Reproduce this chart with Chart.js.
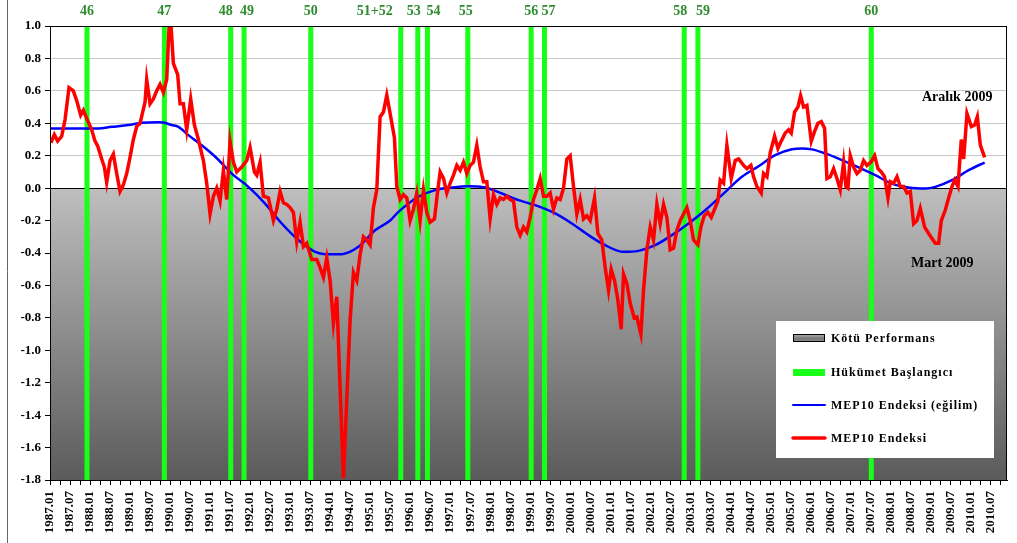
<!DOCTYPE html>
<html>
<head>
<meta charset="utf-8">
<script src="https://cdn.jsdelivr.net/npm/chart.js@4.4.1/dist/chart.umd.min.js"></script>
<style>
  body { margin: 0; background: #fff; }
</style>
</head>
<body>
<canvas id="chart" width="1017" height="543"></canvas>
<script>
// month index: 0 = 1987.01
const mepMonths = [
  0.3, 1.3, 2.3, 3.5, 4.5, 5.7, 7, 8, 9.2, 10, 11, 12.5, 13.5, 14.3, 15.5, 16.3, 17, 18, 19, 20,
  21, 22, 23, 24, 25, 26, 27, 28.5, 29, 30, 31, 32, 33, 34, 35, 35.7, 36.3, 37, 38.3, 39,
  40, 41, 42.2, 43.3, 44.5, 46, 47, 48, 49, 50, 51, 52, 53, 54, 55, 56, 57.5, 59, 60, 61.3,
  62, 63, 64, 65.5, 67, 68, 69, 70, 71, 72, 73, 74, 75, 76, 77, 78.5, 80, 81, 82, 83,
  84, 85, 86, 88, 90, 91, 92, 93, 94, 95, 96, 97, 98, 99, 100, 101, 102, 103.3, 104, 105,
  106, 107, 108, 109, 110, 111, 112, 113, 114, 115.3, 116.3, 117, 118, 119, 120, 121, 122, 123, 124, 125,
  126, 127, 128, 129, 130, 131, 132, 133, 134, 135, 136, 137, 138, 139, 140, 141, 142, 143, 144, 145,
  146, 147, 148, 149, 150, 151, 152, 153, 154, 155, 156, 157, 158, 159, 160, 161, 162, 163.3, 164.3, 165.5,
  166.5, 167.5, 168.3, 169.3, 170.3, 171.3, 172, 173, 174, 175.2, 176, 177.2, 178, 179, 180, 181, 182, 183, 184, 185,
  186, 187, 188, 189, 190, 191, 192, 193, 194.3, 195.2, 196.2, 197.3, 198.3, 199.3, 200.3, 201, 202, 203, 204.3, 205.5,
  206.5, 208, 209, 210.2, 211, 212, 213.3, 214, 215, 216, 217.3, 218.3, 219.3, 220.5, 221.5, 222.3, 223.3, 224.3, 225.1, 226,
  227, 228.3, 229.3, 230.3, 231.3, 232.3, 233, 234, 235, 236, 237, 238, 238.7, 239.3, 240, 241, 242, 243, 244, 245,
  246.2, 247.3, 248.3, 249.3, 250.3, 251.3, 252, 253, 254, 255, 256, 257, 258, 259, 260, 261, 262.3, 263.5, 264.5, 265.5,
  266.5, 267.3, 268.5, 269.5, 270.5, 271.3, 272.3, 273.3, 274, 275, 276.3, 277.3, 278.1, 279, 280.3
];
const mepValues = [
  0.28, 0.33, 0.29, 0.32, 0.42, 0.62, 0.6, 0.54, 0.45, 0.48, 0.43, 0.36, 0.29, 0.26, 0.18, 0.13, 0.035, 0.17, 0.21, 0.09,
  -0.02, 0.02, 0.09, 0.19, 0.3, 0.38, 0.4, 0.53, 0.67, 0.52, 0.55, 0.6, 0.64, 0.59, 0.67, 0.99, 1.0, 0.77, 0.7, 0.52,
  0.52, 0.36, 0.55, 0.39, 0.3, 0.17, 0.03, -0.16, -0.05, 0.0, -0.08, 0.11, -0.07, 0.29, 0.16, 0.1, 0.13, 0.17, 0.25, 0.1,
  0.08, 0.16, -0.05, -0.06, -0.2, -0.13, -0.02, -0.09, -0.1, -0.12, -0.15, -0.33, -0.21, -0.36, -0.34, -0.44, -0.44, -0.49, -0.55, -0.43,
  -0.57, -0.835, -0.67, -1.79, -0.815, -0.52, -0.57, -0.41, -0.3, -0.32, -0.35, -0.12, -0.01, 0.44, 0.47, 0.574, 0.46, 0.31, 0.01, -0.07,
  -0.04, -0.06, -0.2, -0.13, -0.03, -0.2, -0.01, -0.15, -0.21, -0.19, -0.01, 0.1, 0.06, -0.03, 0.03, 0.08, 0.14, 0.11, 0.16, 0.09,
  0.14, 0.16, 0.265, 0.13, 0.04, 0.04, -0.19, -0.04, -0.1, -0.06, -0.07, -0.05, -0.07, -0.08, -0.24, -0.29, -0.24, -0.27, -0.18, -0.07,
  -0.01, 0.06, -0.05, -0.05, -0.03, -0.13, -0.06, -0.07, 0.0, 0.18, 0.2, 0.01, -0.16, -0.07, -0.19, -0.17, -0.2, -0.06, -0.28, -0.32,
  -0.49, -0.63, -0.5, -0.57, -0.69, -0.87, -0.53, -0.59, -0.71, -0.8, -0.795, -0.9, -0.63, -0.38, -0.24, -0.32, -0.1, -0.22, -0.1, -0.18,
  -0.38, -0.37, -0.26, -0.2, -0.16, -0.12, -0.2, -0.32, -0.35, -0.24, -0.17, -0.15, -0.18, -0.13, -0.08, 0.05, 0.03, 0.265, 0.06, 0.17,
  0.18, 0.14, 0.12, 0.14, 0.07, 0.01, -0.03, 0.09, 0.07, 0.22, 0.32, 0.245, 0.29, 0.34, 0.36, 0.34, 0.47, 0.5, 0.57, 0.5,
  0.51, 0.29, 0.35, 0.4, 0.41, 0.37, 0.06, 0.07, 0.12, 0.06, -0.01, 0.16, 0.01, 0.0, 0.2, 0.13, 0.09, 0.11, 0.17, 0.14,
  0.16, 0.2, 0.12, 0.1, 0.07, -0.06, 0.04, 0.03, 0.07, 0.01, 0.01, -0.03, -0.02, -0.22, -0.2, -0.125, -0.24, -0.28, -0.31, -0.34,
  -0.34, -0.2, -0.135, -0.06, 0.01, 0.05, 0.01, 0.3, 0.18, 0.46, 0.38, 0.39, 0.44, 0.265, 0.19
];

const trendMonths = [
  0, 14.5, 18.5, 23.5, 27.5, 32.5, 34, 36.5, 38.5, 41.5, 45.5, 49.5, 54.5, 59.5, 64.5,
  69.5, 74.5, 79.5, 82.5, 87.5, 92.5, 97.5, 102, 104.5, 110.5, 115.5, 120.5, 125.5, 130.5, 135.5,
  140.5, 145.5, 151.5, 156.5, 161.5, 166.5, 172, 176.5, 181.5, 186.5, 191.5, 196.5, 201.5, 207.5, 212.5,
  217.5, 222.5, 225.5, 228.5, 232.5, 237.5, 242.5, 247.5, 252.5, 257.5, 262.5, 265.5, 270.5, 275.5, 280.3
];
const trendValues = [
  0.368, 0.368, 0.378, 0.389, 0.403, 0.407, 0.405, 0.389, 0.378, 0.327, 0.265, 0.195, 0.09, 0.008, -0.095,
  -0.218, -0.32, -0.393, -0.407, -0.407, -0.362, -0.26, -0.2, -0.146, -0.053, -0.012, 0.004, 0.012, 0.004, -0.033,
  -0.074, -0.105, -0.156, -0.218, -0.29, -0.352, -0.393, -0.387, -0.352, -0.29, -0.218, -0.136, -0.043, 0.07, 0.135,
  0.204, 0.24, 0.245, 0.239, 0.214, 0.173, 0.128, 0.08, 0.028, 0.004, -0.002, 0.008, 0.049, 0.111, 0.158
];

// government start months and their numbers
const govMonths = [11.1, 34.3, 54.2, 58.2, 78.2, 105.2, 110.3, 113.2, 125.3, 144.3, 148.3, 190.2, 194.3, 246.3];
const govNames = ['46', '47', '48', '49', '50', '51+52', '53', '54', '55', '56', '57', '58', '59', '60'];

const serif = "'Liberation Serif', 'Times New Roman', serif";

function monthLabel(v) {
  const y = 1987 + Math.floor(v / 12);
  const m = (v % 12) + 1;
  return y + '.' + (m < 10 ? '0' + m : m);
}

const backdrop = {
  id: 'backdrop',
  beforeDatasetsDraw(chart) {
    const { ctx, chartArea: a, scales: { x, y } } = chart;
    const y0 = y.getPixelForValue(0);
    ctx.save();
    // "Kötü Performans" zone
    const g = ctx.createLinearGradient(0, y0, 0, a.bottom);
    g.addColorStop(0, '#bebebe');
    g.addColorStop(1, '#5b5b5b');
    ctx.fillStyle = g;
    ctx.fillRect(a.left, y0, a.right - a.left, a.bottom - y0);
    ctx.strokeStyle = '#000';
    ctx.lineWidth = 1;
    ctx.beginPath();
    ctx.moveTo(a.left, Math.round(y0) + 0.5);
    ctx.lineTo(a.right, Math.round(y0) + 0.5);
    ctx.stroke();

    // government start bars
    ctx.fillStyle = '#19ff19';
    govMonths.forEach(m => {
      const px = x.getPixelForValue(m);
      ctx.fillRect(px - 2.5, a.top, 5, a.bottom - a.top);
    });

    // their labels
    const shift = [0, 0, -5, 3, 0, -26, -4, 6, -2, 0, 4, -4, 5, 0];
    ctx.fillStyle = '#2e8b2e';
    ctx.font = 'bold 14px ' + serif;
    ctx.textAlign = 'center';
    ctx.textBaseline = 'middle';
    govMonths.forEach((m, i) => {
      ctx.fillText(govNames[i], x.getPixelForValue(m) + shift[i], 11);
    });
    ctx.restore();
  },
  afterDatasetsDraw(chart) {
    const { ctx, chartArea: a } = chart;
    ctx.save();
    // plot frame
    ctx.strokeStyle = '#000';
    ctx.lineWidth = 1;
    ctx.strokeRect(a.left + 0.5, a.top + 0.5, a.right - a.left - 1, a.bottom - a.top);

    // outer chart border
    ctx.strokeStyle = '#666';
    ctx.beginPath();
    ctx.moveTo(7.5, 0);
    ctx.lineTo(7.5, 543);
    ctx.stroke();

    // notes
    ctx.fillStyle = '#000';
    ctx.font = 'bold 14px ' + serif;
    ctx.textAlign = 'left';
    ctx.textBaseline = 'middle';
    ctx.fillText('Aralık 2009', 922, 97);
    ctx.fillText('Mart 2009', 911, 263);

    // legend
    ctx.fillStyle = '#fff';
    ctx.fillRect(776, 321, 218, 137);
    const sx = 793, sw = 32, tx = 831;
    const rows = [338, 372, 405, 438];

    const lg = ctx.createLinearGradient(0, 334, 0, 343);
    lg.addColorStop(0, '#b0b0b0');
    lg.addColorStop(0.5, '#777');
    lg.addColorStop(1, '#999');
    ctx.fillStyle = lg;
    ctx.fillRect(sx, rows[0] - 4, sw, 8);
    ctx.strokeStyle = '#000';
    ctx.strokeRect(sx + 0.5, rows[0] - 3.5, sw - 1, 7);

    ctx.fillStyle = '#19ff19';
    ctx.fillRect(sx, rows[1] - 3, sw, 7);

    ctx.lineCap = 'round';
    ctx.strokeStyle = '#0000ff';
    ctx.lineWidth = 2;
    ctx.beginPath();
    ctx.moveTo(sx, rows[2]);
    ctx.lineTo(sx + sw, rows[2]);
    ctx.stroke();

    ctx.strokeStyle = '#ff0000';
    ctx.lineWidth = 3.5;
    ctx.beginPath();
    ctx.moveTo(sx, rows[3]);
    ctx.lineTo(sx + sw, rows[3]);
    ctx.stroke();

    const names = ['Kötü Performans', 'Hükümet Başlangıcı',
      chart.data.datasets[1].label, chart.data.datasets[0].label];
    ctx.fillStyle = '#000';
    ctx.font = 'bold 12px ' + serif;
    ctx.letterSpacing = '1px';
    names.forEach((n, i) => ctx.fillText(n, tx, rows[i] + 1));
    ctx.restore();
  }
};

const tickFont = { family: serif, weight: 'bold', size: 13 };

new Chart(document.getElementById('chart'), {
  type: 'line',
  data: {
    datasets: [{
      label: 'MEP10 Endeksi',
      data: mepMonths.map((m, i) => ({ x: m, y: mepValues[i] })),
      borderColor: '#ff0000',
      borderWidth: 3.5,
      pointRadius: 0,
      tension: 0
    },
    {
      label: 'MEP10 Endeksi (eğilim)',
      data: trendMonths.map((m, i) => ({ x: m, y: trendValues[i] })),
      borderColor: '#0000ff',
      borderWidth: 2.5,
      pointRadius: 0,
      cubicInterpolationMode: 'monotone'
    }]
  },
  options: {
    responsive: false,
    animation: false,
    devicePixelRatio: 1,
    layout: { padding: { left: 0, top: 26, right: 10, bottom: 0 } },
    plugins: { legend: { display: false }, tooltip: { enabled: false } },
    scales: {
      x: {
        type: 'linear',
        min: 0,
        max: 287,
        afterBuildTicks: s => {
          const t = [];
          for (let v = 0; v <= 287; v += 3) t.push({ value: v });
          s.ticks = t;
        },
        afterFit: s => {
          s.height = 63;
          s.paddingLeft = 0;
          s.paddingRight = 0;
        },
        ticks: {
          autoSkip: false,
          minRotation: 90,
          maxRotation: 90,
          padding: 6,
          color: '#000',
          font: { family: serif, weight: 'bold', size: 13 },
          callback: v => (v % 6 === 0 ? monthLabel(v) : '')
        },
        grid: { drawOnChartArea: false, tickLength: 5, tickColor: '#000' },
        border: { color: '#000' }
      },
      y: {
        min: -1.8,
        max: 1.0,
        afterFit: s => {
          s.width = 50;
          s.paddingTop = 0;
          s.paddingBottom = 0;
        },
        ticks: {
          stepSize: 0.2,
          padding: 4,
          color: '#000',
          font: tickFont,
          callback: v => (Math.abs(v) < 1e-9 ? '0.0' : v.toFixed(1))
        },
        grid: { color: '#c8c8c8', tickLength: 5, tickColor: '#000' },
        border: { color: '#000' }
      }
    }
  },
  plugins: [backdrop]
});
</script>
</body>
</html>
